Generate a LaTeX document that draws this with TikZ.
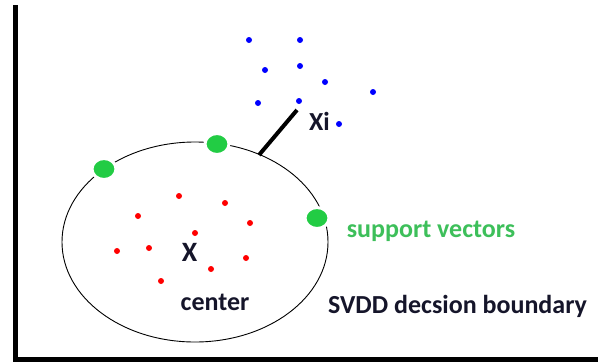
\documentclass[tikz,border=0pt]{standalone}
\usepackage{fontspec}
\setmainfont{Carlito}
\usetikzlibrary{shapes.geometric}
\definecolor{svgreen}{HTML}{22CC44}
\definecolor{txtgreen}{HTML}{3DBF5A}
\definecolor{txtdark}{HTML}{15152A}
\begin{document}
\begin{tikzpicture}[x=1bp,y=-1bp,
  bluedot/.style={circle,fill=blue,inner sep=0pt,minimum size=6bp},
  reddot/.style={circle,fill=red,inner sep=0pt,minimum size=6bp},
  supvec/.style={ellipse,fill=svgreen,draw=white,line width=3bp,inner sep=0pt,minimum width=24bp,minimum height=21bp},
  lbl/.style={font=\bfseries\fontsize{26bp}{30bp}\selectfont,text=txtdark,inner sep=0pt},
  axis/.style={line width=5bp,black}]
\useasboundingbox (0,0) rectangle (601,363);
% axes
\coordinate (top) at (15.5,5);
\coordinate (origin) at (15.5,359.5);
\coordinate (right) at (598,359.5);
\draw[axis] (top) -- (origin) -- (right);
% boundary
\node[draw,ellipse,line width=0.9bp,minimum width=266bp,minimum height=200bp,inner sep=0pt] (bnd) at (195,242) {};
% support vectors
\node[supvec] (sv1) at (104,169) {};
\node[supvec] (sv2) at (217,144) {};
\node[supvec] (sv3) at (317,218) {};
% red points
\foreach \p/\q [count=\i] in {179/196,225/203,138/216,250/223,195/233,117/251,149/248,246/258,211/269,161/281}
  \node[reddot] (r\i) at (\p,\q) {};
% blue points
\foreach \p/\q [count=\i] in {249/40,300/40,265/70,300/66,325/82,373/92,258/103,299/101,339/124}
  \node[bluedot] (b\i) at (\p,\q) {};
% distance line
\coordinate (bp) at (259,155);
\coordinate (xp) at (297,110);
\draw[line width=4bp] (bp) -- (xp);
% labels
\node[lbl,font=\bfseries\fontsize{26bp}{30bp}\selectfont] (xi) at (319.5,121.5) {Xi};
\node[lbl,font=\bfseries\fontsize{28bp}{32bp}\selectfont] (xc) at (189.5,252.5) {X};
\node[lbl] (cen) at (215,302) {center};
\node[lbl,text=txtgreen] (svl) at (431,231) {support vectors};
\node[lbl] (svdd) at (457.5,306) {SVDD decsion boundary};
\end{tikzpicture}
\end{document}
